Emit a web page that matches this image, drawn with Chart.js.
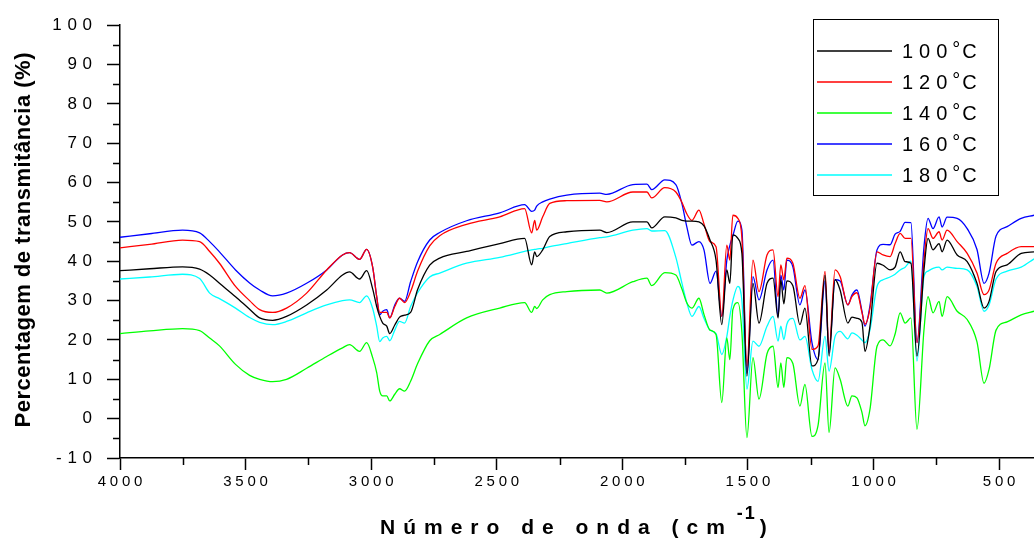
<!DOCTYPE html>
<html lang="pt">
<head>
<meta charset="UTF-8">
<title>Espectros FTIR</title>
<style>
    html, body { margin: 0; padding: 0; background: #fff; }
    #wrap { width: 1034px; height: 543px; }
</style>
</head>
<body>
<div id="wrap"><canvas id="chart" width="1034" height="543"></canvas></div>
<script src="https://cdn.jsdelivr.net/npm/chart.js@4.4.1/dist/chart.umd.min.js"></script>
<script>
    'use strict';
    // número de onda (cm-1), do maior para o menor
    var wavenumbers = [4000, 3882, 3751, 3683, 3643, 3604, 3540, 3484, 3444, 3392,
        3337, 3257, 3177, 3114, 3086, 3046, 3018, 2994, 2978, 2966,
        2954, 2938, 2926, 2906, 2887, 2867, 2843, 2815, 2767, 2727,
        2620, 2488, 2389, 2361, 2349, 2341, 2317, 2289, 2221, 2090,
        2062, 1958, 1902, 1883, 1831, 1787, 1763, 1743, 1723, 1695,
        1675, 1651, 1627, 1604, 1584, 1572, 1560, 1540, 1524, 1504,
        1480, 1456, 1424, 1400, 1380, 1369, 1357, 1345, 1321, 1293,
        1273, 1245, 1221, 1193, 1177, 1153, 1133, 1102, 1086, 1066,
        1046, 1034, 1014, 986, 962, 934, 914, 894, 874, 851,
        827, 799, 783, 763, 739, 727, 707, 667, 627, 588,
        560, 540, 512, 468, 412, 361];

    // transmitância (%) para cada temperatura
    var t100 = [37.6, 38.1, 38.6, 38.0, 36.5, 34.4, 31.0, 27.8, 25.6, 25.0,
        26.0, 28.9, 32.7, 36.5, 37.3, 35.5, 37.6, 33.0, 28.5, 26.0,
        24.3, 23.5, 21.6, 23.8, 25.8, 26.3, 27.0, 32.8, 39.0, 40.8,
        42.5, 44.5, 45.8, 39.1, 42.4, 41.2, 42.9, 46.3, 47.5, 47.9,
        47.3, 50.0, 50.0, 48.5, 51.3, 51.0, 50.4, 50.2, 50.2, 50.0,
        49.0, 45.4, 40.3, 23.9, 37.8, 34.4, 46.7, 45.8, 42.0, 10.8,
        34.4, 24.3, 34.4, 35.7, 25.6, 35.3, 29.2, 35.0, 33.8, 23.9,
        28.1, 13.4, 15.0, 36.5, 15.9, 35.3, 32.7, 24.3, 25.8, 25.5,
        24.5, 17.1, 23.5, 39.5, 39.0, 37.8, 38.5, 42.4, 39.9, 39.5,
        15.9, 37.8, 45.8, 42.9, 44.5, 42.4, 45.4, 41.6, 39.9, 34.4,
        28.1, 29.8, 37.4, 39.1, 42.0, 42.4];
    var t120 = [43.4, 44.3, 45.4, 45.0, 42.5, 39.5, 33.6, 30.0, 27.7, 27.0,
        28.1, 31.9, 37.8, 41.6, 42.2, 40.5, 43.0, 38.5, 31.0, 27.0,
        27.0, 27.0, 25.6, 28.5, 30.6, 29.5, 32.3, 37.5, 43.9, 46.5,
        49.4, 51.3, 53.4, 47.2, 50.4, 47.9, 51.3, 54.7, 55.4, 55.5,
        55.1, 57.6, 57.6, 56.1, 58.7, 57.6, 55.0, 52.0, 50.4, 53.0,
        49.5, 45.0, 43.7, 26.0, 44.1, 40.3, 51.7, 50.9, 46.0, 13.4,
        40.3, 32.3, 41.6, 42.9, 31.0, 39.1, 35.3, 40.8, 39.5, 30.6,
        33.8, 17.6, 18.5, 37.4, 17.6, 37.8, 36.1, 28.9, 31.0, 32.0,
        27.0, 24.0, 28.0, 42.4, 41.6, 41.2, 44.5, 47.1, 45.8, 45.8,
        19.3, 40.3, 48.3, 45.8, 47.5, 45.4, 47.9, 45.0, 42.0, 37.0,
        31.5, 32.7, 39.5, 42.0, 43.7, 43.7];
    var t140 = [21.6, 22.3, 22.9, 22.4, 20.5, 18.5, 13.8, 11.0, 10.0, 9.4,
        10.0, 12.8, 15.8, 18.0, 18.8, 17.1, 19.3, 15.5, 11.7, 7.0,
        5.8, 5.8, 4.5, 6.2, 7.6, 7.0, 9.5, 14.0, 19.8, 21.4,
        25.6, 28.1, 29.5, 27.0, 28.5, 28.0, 30.2, 31.5, 32.3, 32.7,
        31.9, 34.8, 35.7, 33.8, 37.1, 36.5, 33.0, 29.4, 28.1, 30.6,
        26.5, 22.5, 21.4, 4.1, 20.5, 15.0, 27.7, 29.5, 22.0, -4.8,
        15.5, 5.0, 16.5, 18.4, 7.9, 14.2, 7.9, 15.5, 14.0, 3.2,
        8.7, -4.5, -1.8, 14.2, -3.5, 12.9, 10.0, 3.2, 5.8, 5.3,
        1.6, -1.8, 2.4, 18.4, 20.0, 18.5, 21.5, 26.9, 24.3, 25.6,
        -2.7, 22.6, 31.0, 26.9, 29.8, 26.0, 31.0, 27.3, 25.2, 19.5,
        9.0, 12.5, 22.5, 24.6, 26.4, 27.3];
    var t160 = [46.1, 47.0, 47.9, 47.2, 45.0, 42.4, 37.8, 34.5, 32.7, 31.2,
        31.9, 34.4, 37.8, 41.6, 42.2, 40.5, 43.0, 38.5, 31.0, 26.4,
        27.3, 27.7, 25.6, 28.9, 30.6, 29.8, 34.8, 39.9, 45.4, 47.3,
        50.3, 52.3, 54.4, 52.7, 53.0, 54.0, 55.1, 55.8, 56.8, 57.3,
        57.0, 59.5, 59.6, 58.2, 60.7, 59.5, 54.7, 48.7, 44.1, 45.0,
        42.9, 34.4, 37.5, 26.0, 40.3, 44.0, 46.5, 50.2, 48.0, 11.5,
        36.1, 30.2, 37.8, 40.3, 26.0, 36.5, 32.7, 40.3, 38.6, 28.9,
        32.7, 19.3, 15.0, 35.0, 16.7, 35.3, 35.0, 28.9, 31.4, 32.7,
        27.3, 23.5, 28.7, 42.9, 44.3, 44.2, 46.9, 47.6, 49.9, 49.8,
        19.3, 43.7, 50.9, 48.3, 51.3, 48.7, 51.2, 50.9, 48.3, 43.0,
        34.4, 37.0, 46.4, 48.8, 50.9, 51.7];
    var t180 = [35.5, 36.0, 36.7, 35.6, 31.9, 30.5, 28.1, 25.7, 24.5, 23.9,
        24.7, 26.9, 28.9, 30.0, 30.2, 29.5, 31.2, 28.0, 23.5, 19.6,
        20.5, 20.9, 19.8, 22.5, 24.7, 24.3, 28.5, 32.0, 36.0, 37.0,
        39.5, 41.0, 42.5, 42.9, 43.0, 43.1, 43.3, 43.7, 44.5, 46.0,
        46.2, 47.9, 48.3, 47.7, 47.8, 41.0, 34.5, 29.4, 26.0, 28.5,
        25.5, 22.5, 21.6, 16.3, 20.9, 26.0, 30.0, 33.6, 30.0, 7.5,
        19.7, 18.4, 23.5, 26.0, 19.7, 23.5, 20.1, 24.0, 25.5, 20.0,
        20.9, 12.5, 9.5, 20.9, 12.1, 20.9, 22.2, 20.3, 21.8, 21.2,
        20.0, 19.3, 22.6, 33.6, 35.3, 36.0, 36.7, 37.8, 38.5, 40.0,
        14.6, 36.1, 37.5, 38.2, 38.5, 37.8, 38.5, 38.2, 37.8, 33.6,
        27.3, 28.9, 35.5, 37.5, 38.5, 40.6];

    var seriesNames = ['100', '120', '140', '160', '180'];   // °C
    var seriesColors = ['#000000', '#ff0000', '#00ff00', '#0000ff', '#00ffff'];
    var xTicks = [500, 1000, 1500, 2000, 2500, 3000, 3500, 4000];
    var xMinor = [750, 1250, 1750, 2250, 2750, 3250, 3750];
    var yTicks = [-10, 0, 10, 20, 30, 40, 50, 60, 70, 80, 90, 100];
    var yMinor = [-5, 5, 15, 25, 35, 45, 55, 65, 75, 85, 95];

    var FONT = 'Arial, "Liberation Sans", sans-serif';

    function toPoints(ys) {
        return wavenumbers.map(function (w, i) { return {x: w, y: ys[i]}; });
    }

    // escreve texto letra a letra com espaçamento extra
    function spacedText(ctx, str, x, y, gap) {
        for (var i = 0; i < str.length; i++) {
            ctx.fillText(str[i], x, y);
            x += ctx.measureText(str[i]).width + gap;
        }
        return x;
    }
    function spacedWidth(ctx, str, gap) {
        var w = 0;
        for (var i = 0; i < str.length; i++) w += ctx.measureText(str[i]).width + gap;
        return w - gap;
    }

    var decor = {
        id: 'decor',
        afterDraw: function (chart) {
            var ctx = chart.ctx;
            var xs = chart.scales.x, ys = chart.scales.y;
            ctx.save();
            // ticks menores
            ctx.strokeStyle = '#000';
            ctx.lineWidth = 1.5;
            ctx.beginPath();
            xMinor.forEach(function (v) {
                var p = Math.round(xs.getPixelForValue(v)) + 0.5;
                ctx.moveTo(p, xs.top);
                ctx.lineTo(p, xs.top + 7);
            });
            yMinor.forEach(function (v) {
                var p = Math.round(ys.getPixelForValue(v)) + 0.5;
                ctx.moveTo(ys.right, p);
                ctx.lineTo(ys.right - 7, p);
            });
            ctx.stroke();

            // título do eixo y
            ctx.fillStyle = '#000';
            ctx.font = 'bold 22px ' + FONT;
            ctx.textAlign = 'left';
            ctx.textBaseline = 'middle';
            var ytitle = 'Percentagem de transmitância (%)';
            ctx.save();
            ctx.translate(24, 240);
            ctx.rotate(-Math.PI / 2);
            spacedText(ctx, ytitle, -spacedWidth(ctx, ytitle, 0.5) / 2, 0, 0.5);
            ctx.restore();

            // título do eixo x
            ctx.textAlign = 'left';
            ctx.textBaseline = 'alphabetic';
            ctx.font = 'bold 21px ' + FONT;
            var x = spacedText(ctx, 'Número de onda (cm', 380, 534, 8.0);
            ctx.font = 'bold 18px ' + FONT;
            x = spacedText(ctx, '-1', x + 4, 519, 2);
            ctx.font = 'bold 21px ' + FONT;
            spacedText(ctx, ')', x + 3, 534, 0);

            // legenda
            var bx = 813.5, by = 19.5, bw = 185, bh = 176;
            ctx.fillStyle = '#fff';
            ctx.fillRect(bx, by, bw, bh);
            ctx.strokeStyle = '#000';
            ctx.lineWidth = 1;
            ctx.strokeRect(bx, by, bw, bh);
            chart.data.datasets.forEach(function (ds, i) {
                var y = 51 + i * 31;
                ctx.strokeStyle = ds.borderColor;
                ctx.lineWidth = 1.5;
                ctx.beginPath();
                ctx.moveTo(817, y);
                ctx.lineTo(892, y);
                ctx.stroke();
                ctx.fillStyle = '#000';
                ctx.font = '20px ' + FONT;
                ctx.textBaseline = 'middle';
                var tx = spacedText(ctx, ds.label, 902, y + 1, 6);
                ctx.font = '20px ' + FONT;
                tx = spacedText(ctx, '°', tx - 1, y - 1, 0);
                spacedText(ctx, 'C', tx + 2, y + 1, 0);
            });
            ctx.restore();
        }
    };

    var datasets = [t100, t120, t140, t160, t180].map(function (arr, i) {
        return {
            label: seriesNames[i],
            data: toPoints(arr),
            borderColor: seriesColors[i],
            borderWidth: 1.3,
            pointRadius: 0,
            fill: false,
            cubicInterpolationMode: 'monotone'
        };
    });

    var chart = new Chart(document.getElementById('chart'), {
        type: 'line',
        data: {datasets: datasets},
        plugins: [decor],
        options: {
            responsive: false,
            animation: false,
            devicePixelRatio: 1,
            layout: {padding: {top: 25, right: 0, left: 0, bottom: 0}},
            plugins: {legend: {display: false}, tooltip: {enabled: false}},
            scales: {
                x: {
                    type: 'linear',
                    reverse: true,
                    min: 361,
                    max: 4000,
                    afterBuildTicks: function (s) {
                        s.ticks = xTicks.map(function (v) { return {value: v}; });
                    },
                    afterFit: function (s) { s.height = 85; },
                    border: {display: true, color: '#000', width: 1.5},
                    grid: {drawOnChartArea: false, drawTicks: true, tickLength: 12, tickColor: '#000', tickWidth: 1.5},
                    ticks: {
                        color: '#000',
                        padding: 3,
                        maxRotation: 0,
                        autoSkip: false,
                        font: {family: FONT, size: 15},
                        callback: function (v) { return String(v).split('').join('\u2005'); }
                    }
                },
                y: {
                    type: 'linear',
                    min: -10,
                    max: 100,
                    afterBuildTicks: function (s) {
                        s.ticks = yTicks.map(function (v) { return {value: v}; });
                    },
                    afterFit: function (s) { s.width = 120; },
                    border: {display: true, color: '#000', width: 1.5},
                    grid: {drawOnChartArea: false, drawTicks: true, tickLength: 13, tickColor: '#000', tickWidth: 1.5},
                    ticks: {
                        color: '#000',
                        padding: 15,
                        autoSkip: false,
                        font: {family: FONT, size: 17},
                        callback: function (v) { return String(v).split('').join('\u2004'); }
                    }
                }
            }
        }
    });
</script>
</body>
</html>
